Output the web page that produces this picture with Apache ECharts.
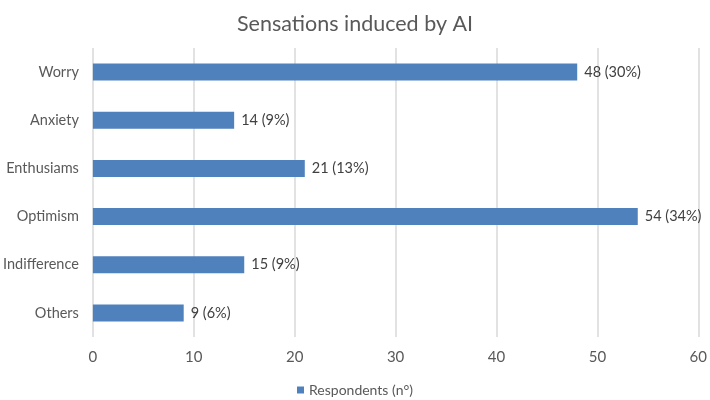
<!DOCTYPE html>
<html><head><meta charset="utf-8">
<script src="https://cdn.jsdelivr.net/npm/echarts@6/dist/echarts.min.js"></script>
<style>html,body{margin:0;padding:0;background:#fff}#c{width:710px;height:400px}</style>
</head><body><div id="c"></div>
<script>
const categories = ["Worry","Anxiety","Enthusiams","Optimism","Indifference","Others"];
const values = [48,14,21,54,15,9];
const percents = ["30%","9%","13%","34%","9%","6%"];
const xTicks = [0,10,20,30,40,50,60];
const seriesName = "Respondents (n°)";
const FONT = "Lato";
const chart = echarts.init(document.getElementById('c'), null, {renderer:'canvas'});
chart.setOption({
  animation:false,
  title:{text:"Sensations induced by AI",left:'center',top:8,textStyle:{fontFamily:FONT,fontSize:21.5,fontWeight:'normal',color:'#595959'}},
  grid:{left:91,right:10,top:48,bottom:63,containLabel:false},
  legend:{bottom:3,padding:[0,5],left:'center',itemWidth:7,itemHeight:7,itemGap:6,icon:'rect',textStyle:{fontFamily:FONT,fontSize:14,color:'#595959'},data:[seriesName]},
  xAxis:{type:'value',min:xTicks[0],max:xTicks[xTicks.length-1],interval:10,
    axisLine:{show:false},axisTick:{show:false},
    splitLine:{lineStyle:{color:'#d9d9d9',width:1.5}},
    axisLabel:{fontFamily:FONT,fontSize:15,color:'#595959',margin:13}},
  yAxis:{type:'category',data:categories,inverse:true,
    axisLine:{show:false},axisTick:{show:false},
    axisLabel:{fontFamily:FONT,fontSize:14.5,color:'#595959',margin:14}},
  series:[{name:seriesName,type:'bar',data:values,barWidth:17,itemStyle:{color:'#4F81BD'},
    label:{show:true,position:'right',distance:7,fontFamily:FONT,fontSize:14.5,color:'#404040',
      formatter:p=>p.value+" ("+percents[p.dataIndex]+")"}}]
});
</script></body></html>
